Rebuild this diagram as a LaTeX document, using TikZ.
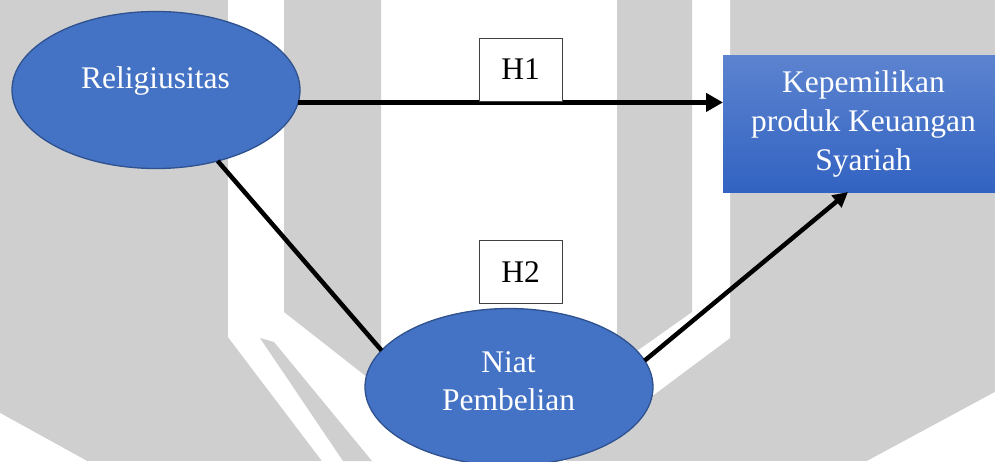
\documentclass[tikz,border=0pt]{standalone}
\usepackage{fontspec}
\setmainfont{Liberation Serif}
\usetikzlibrary{shapes.geometric,arrows.meta,calc}

\definecolor{wmgray}{RGB}{207,207,207}
\definecolor{nodeblue}{RGB}{68,114,196}
\definecolor{nodeedge}{RGB}{47,82,143}
\definecolor{boxtop}{RGB}{92,131,207}
\definecolor{boxbot}{RGB}{50,99,194}

\begin{document}
\begin{tikzpicture}[x=1pt,y=-1pt,
  bigfont/.style={font=\fontsize{31.5}{39}\selectfont},
  varnode/.style={ellipse, draw=nodeedge, line width=1.3pt, fill=nodeblue,
    minimum width=288pt, minimum height=157pt, inner sep=0pt, outer sep=0pt},
  vartext/.style={bigfont, text=white, inner sep=0pt},
  outcome/.style={rectangle, top color=boxtop, bottom color=boxbot, draw=none,
    minimum width=281pt, minimum height=137pt, inner sep=0pt, outer sep=0pt,
    bigfont, text=white, align=center},
  hypbox/.style={rectangle, draw=black!75, line width=0.8pt, fill=white,
    minimum width=83pt, minimum height=63pt, inner sep=0pt, bigfont},
  mainpath/.style={line width=5pt, -{Triangle[length=17pt,width=18pt]}},
  sidepath/.style={line width=4.5pt, -{Triangle[length=15pt,width=15pt]}},
  plainpath/.style={line width=4.5pt}
]
\useasboundingbox (0,0) rectangle (995,461);
\clip (0,0) rectangle (995,461);

% background with the light watermark
\fill[wmgray] (0,0) rectangle (995,461);
\fill[white] (228,0) -- (730,0) -- (730,338) -- (565,461) -- (322,461) -- (228,337) -- cycle;
\fill[wmgray] (284,0) -- (381,0) -- (381,388) -- (284,312) -- cycle;
\fill[wmgray] (617,0) -- (692,0) -- (692,312) -- (617,365) -- cycle;
\fill[wmgray] (260,338) -- (274,342) -- (372,461) -- (343,461) -- cycle;
\fill[white] (0,413) -- (87,461) -- (0,461) -- cycle;
\fill[white] (995,392) -- (995,461) -- (867,461) -- cycle;

% variables
\node[varnode] (rel) at (156,90) {};
\node[vartext, anchor=base] (reltxt) at (155.5,88) {Religiusitas};

\node[varnode] (niat) at (509,387) {};
\node[vartext, anchor=base] (niattxt) at (508.5,372) {Niat};
\node[vartext, anchor=base] (pembtxt) at (508.5,410) {Pembelian};

\node[outcome] (box) at (863.5,123.5) {Kepemilikan\\produk Keuangan\\Syariah};

% paths
\draw[mainpath] (rel.-5.2) -- (rel.-5.2 -| box.west);
\draw[plainpath] (rel.-49.7) -- (niat.164);
\draw[sidepath] (niat.11) -- ([xshift=125pt]box.south west);

% hypothesis labels
\node[hypbox] (h1) at (520.5,69.5) {H1};
\node[hypbox] (h2) at (520.5,272) {H2};
\end{tikzpicture}
\end{document}
